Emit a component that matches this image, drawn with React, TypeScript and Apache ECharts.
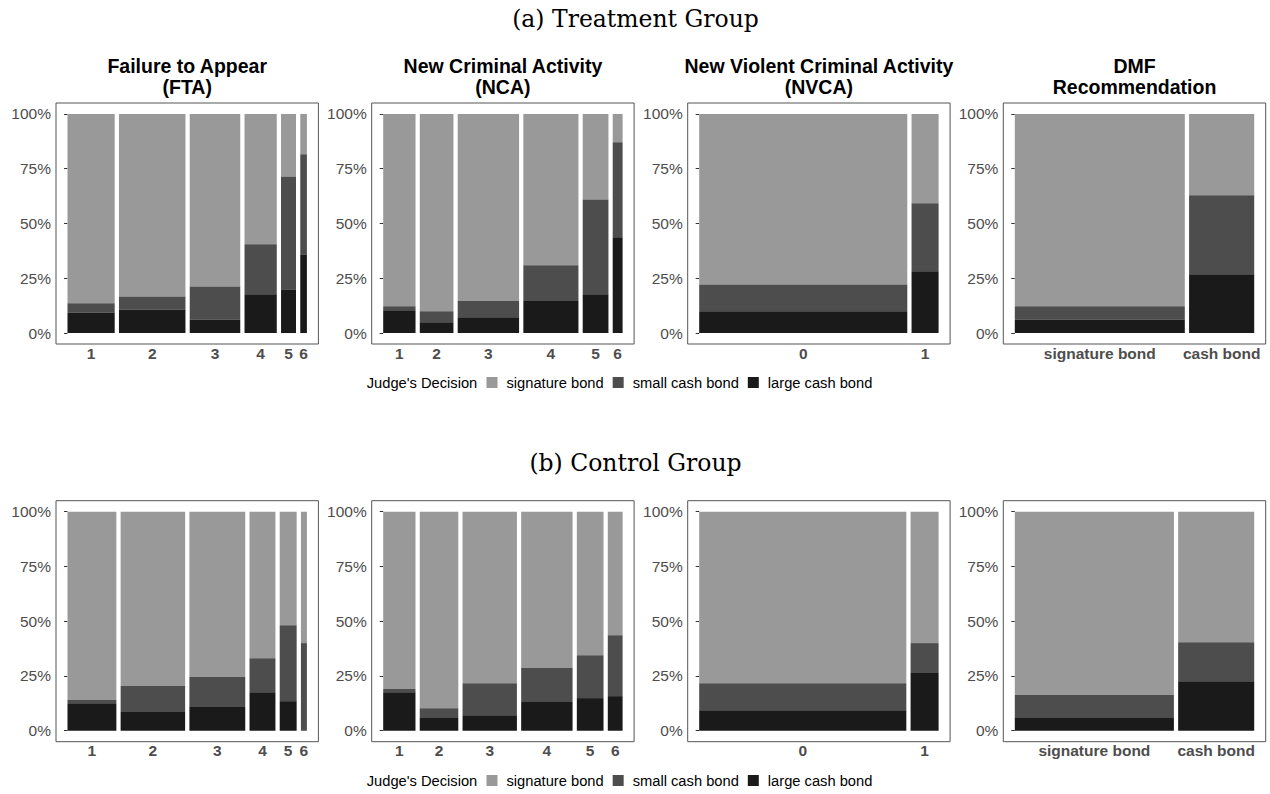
import React, { useEffect, useRef } from "react";
import * as echarts from "echarts";

// ---------- data ----------
const LEVELS = ["signature bond", "small cash bond", "large cash bond"];
const COLORS = ["#999999", "#4D4D4D", "#1A1A1A"];

const FTA_CATS = ["1", "2", "3", "4", "5", "6"];
const NCA_CATS = ["1", "2", "3", "4", "5", "6"];
const NVCA_CATS = ["0", "1"];
const DMF_CATS = ["signature bond", "cash bond"];

const PANEL_TITLES = [
  "Failure to Appear\n(FTA)",
  "New Criminal Activity\n(NCA)",
  "New Violent Criminal Activity\n(NVCA)",
  "DMF\nRecommendation",
];
const GROUP_TITLES = ["(a) Treatment Group", "(b) Control Group"];
const LEGEND_TITLE = "Judge's Decision";
const Y_TICKS = [0, 0.25, 0.5, 0.75, 1];

// Treatment group: relative bar widths (share of cases) and share of each decision
const T_FTA_WIDTH = [142, 200, 152, 97, 45, 20];
const T_FTA_LARGE = [0.094, 0.108, 0.062, 0.177, 0.199, 0.359];
const T_FTA_SMALL = [0.042, 0.059, 0.151, 0.228, 0.516, 0.457];

const T_NCA_WIDTH = [98, 102, 186, 167, 78, 30];
const T_NCA_LARGE = [0.104, 0.049, 0.072, 0.146, 0.177, 0.437];
const T_NCA_SMALL = [0.018, 0.05, 0.074, 0.163, 0.433, 0.434];

const T_NVCA_WIDTH = [623, 81];
const T_NVCA_LARGE = [0.099, 0.282];
const T_NVCA_SMALL = [0.123, 0.31];

const T_DMF_WIDTH = [509, 195];
const T_DMF_LARGE = [0.062, 0.268];
const T_DMF_SMALL = [0.06, 0.361];

// Control group
const C_FTA_WIDTH = [147, 194, 168, 78, 51, 18];
const C_FTA_LARGE = [0.126, 0.085, 0.108, 0.176, 0.135, 0];
const C_FTA_SMALL = [0.014, 0.119, 0.137, 0.155, 0.347, 0.4];

const C_NCA_WIDTH = [98, 117, 165, 156, 81, 45];
const C_NCA_LARGE = [0.176, 0.058, 0.071, 0.131, 0.149, 0.158];
const C_NCA_SMALL = [0.014, 0.045, 0.146, 0.155, 0.196, 0.278];

const C_NVCA_WIDTH = [621, 84];
const C_NVCA_LARGE = [0.094, 0.263];
const C_NVCA_SMALL = [0.123, 0.137];

const C_DMF_WIDTH = [477, 228];
const C_DMF_LARGE = [0.058, 0.226];
const C_DMF_SMALL = [0.105, 0.178];

// ---------- layout ----------
const COL_LEFT = [56, 371.7, 687.7, 1003.3];
const PANEL_W = 262.4;
const ROW_TOP = [103, 500.7];
const PANEL_H = 241;
const GAP = 0.0178;
const X_EXP = 0.048;
const Y_EXP = 0.05;
const FONT = "Liberation Sans";
const AXIS_TEXT = "#4D4D4D";

type Panel = {
  row: number;
  col: number;
  cats: string[];
  widths: number[];
  large: number[];
  small: number[];
};

const PANELS: Panel[] = [
  { row: 0, col: 0, cats: FTA_CATS, widths: T_FTA_WIDTH, large: T_FTA_LARGE, small: T_FTA_SMALL },
  { row: 0, col: 1, cats: NCA_CATS, widths: T_NCA_WIDTH, large: T_NCA_LARGE, small: T_NCA_SMALL },
  { row: 0, col: 2, cats: NVCA_CATS, widths: T_NVCA_WIDTH, large: T_NVCA_LARGE, small: T_NVCA_SMALL },
  { row: 0, col: 3, cats: DMF_CATS, widths: T_DMF_WIDTH, large: T_DMF_LARGE, small: T_DMF_SMALL },
  { row: 1, col: 0, cats: FTA_CATS, widths: C_FTA_WIDTH, large: C_FTA_LARGE, small: C_FTA_SMALL },
  { row: 1, col: 1, cats: NCA_CATS, widths: C_NCA_WIDTH, large: C_NCA_LARGE, small: C_NCA_SMALL },
  { row: 1, col: 2, cats: NVCA_CATS, widths: C_NVCA_WIDTH, large: C_NVCA_LARGE, small: C_NVCA_SMALL },
  { row: 1, col: 3, cats: DMF_CATS, widths: C_DMF_WIDTH, large: C_DMF_LARGE, small: C_DMF_SMALL },
];

function barPositions(widths: number[]) {
  const n = widths.length;
  const total = widths.reduce((a, b) => a + b, 0);
  const usable = 1 - GAP * (n - 1);
  const out: { x0: number; x1: number }[] = [];
  let x = 0;
  for (let i = 0; i < n; i++) {
    const w = (widths[i] / total) * usable;
    out.push({ x0: x, x1: x + w });
    x += w + GAP;
  }
  return out;
}

function buildOption() {
  const grid: any[] = [];
  const xAxis: any[] = [];
  const yAxis: any[] = [];
  const series: any[] = [];
  const graphic: any[] = [];

  PANELS.forEach((p, idx) => {
    const pos = barPositions(p.widths);
    const centers = pos.map((b) => (b.x0 + b.x1) / 2);
    grid.push({
      left: COL_LEFT[p.col],
      top: ROW_TOP[p.row],
      width: PANEL_W,
      height: PANEL_H,
      show: true,
      borderColor: "#555555",
      borderWidth: 1,
      backgroundColor: "transparent",
      containLabel: false,
    });
    xAxis.push({
      type: "value",
      gridIndex: idx,
      min: -X_EXP,
      max: 1 + X_EXP,
      axisLine: { show: false },
      axisTick: { show: false },
      splitLine: { show: false },
      axisLabel: {
        customValues: centers,
        margin: 1,
        fontFamily: FONT,
        fontSize: 15.5,
        fontWeight: "bold",
        color: AXIS_TEXT,
        formatter: (v: number) => {
          let best = 0;
          for (let i = 1; i < centers.length; i++) {
            if (Math.abs(centers[i] - v) < Math.abs(centers[best] - v)) best = i;
          }
          return p.cats[best];
        },
      },
    });
    yAxis.push({
      type: "value",
      gridIndex: idx,
      min: -Y_EXP,
      max: 1 + Y_EXP,
      axisLine: { show: false },
      splitLine: { show: false },
      axisTick: {
        show: true,
        customValues: Y_TICKS,
        length: 3.5,
        lineStyle: { color: "#333333", width: 1 },
      },
      axisLabel: {
        customValues: Y_TICKS,
        margin: 5,
        fontFamily: FONT,
        fontSize: 15.5,
        color: AXIS_TEXT,
        formatter: (v: number) => Math.round(v * 100) + "%",
      },
    });

    // series per decision level (stacked: large at bottom, small middle, signature on top)
    LEVELS.forEach((name, li) => {
      const data = pos.map((b, i) => {
        const L = p.large[i];
        const S = p.small[i];
        let y0 = 0;
        let y1 = 0;
        if (li === 2) {
          y0 = 0;
          y1 = L;
        } else if (li === 1) {
          y0 = L;
          y1 = L + S;
        } else {
          y0 = L + S;
          y1 = 1;
        }
        return [b.x0, b.x1, y0, y1];
      });
      series.push({
        type: "custom",
        name,
        xAxisIndex: idx,
        yAxisIndex: idx,
        itemStyle: { color: COLORS[li] },
        encode: { x: [0, 1], y: [2, 3] },
        data,
        renderItem: (_params: any, api: any) => {
          const x0 = api.value(0);
          const x1 = api.value(1);
          const y0 = api.value(2);
          const y1 = api.value(3);
          if (y1 - y0 <= 0) return null;
          const a = api.coord([x0, y1]);
          const b = api.coord([x1, y0]);
          return {
            type: "rect",
            shape: { x: a[0], y: a[1], width: b[0] - a[0], height: b[1] - a[1] },
            style: { fill: COLORS[li] },
          };
        },
      });
    });
  });

  // panel titles (top row only)
  PANEL_TITLES.forEach((t, c) => {
    graphic.push({
      type: "text",
      x: COL_LEFT[c] + PANEL_W / 2,
      y: 56,
      style: {
        text: t,
        fontFamily: FONT,
        fontSize: 19.5,
        fontWeight: "bold",
        fill: "#000000",
        align: "center",
        verticalAlign: "top",
        lineHeight: 20.5,
      },
    });
  });

  // group titles
  const groupY = [19, 463];
  GROUP_TITLES.forEach((t, i) => {
    graphic.push({
      type: "text",
      x: 635.5,
      y: groupY[i],
      style: {
        text: t,
        fontFamily: "DejaVu Serif",
        fontSize: 23.5,
        fill: "#000000",
        align: "center",
        verticalAlign: "middle",
      },
    });
  });

  // legend titles
  const legendY = [383, 781];
  legendY.forEach((y) => {
    graphic.push({
      type: "text",
      x: 366.7,
      y,
      style: {
        text: LEGEND_TITLE,
        fontFamily: FONT,
        fontSize: 14.7,
        fill: "#000000",
        align: "left",
        verticalAlign: "middle",
      },
    });
  });

  const legend = legendY.map((y) => ({
    data: LEVELS,
    left: 486.5,
    top: y - 8,
    padding: 0,
    orient: "horizontal",
    icon: "rect",
    itemWidth: 11,
    itemHeight: 11,
    itemGap: 9,
    selectedMode: false,
    textStyle: {
      fontFamily: FONT,
      fontSize: 14.7,
      color: "#000000",
      padding: [0, 0, 0, 4],
    },
  }));

  return {
    animation: false,
    backgroundColor: "#ffffff",
    textStyle: { fontFamily: FONT },
    grid,
    xAxis,
    yAxis,
    series,
    legend,
    graphic,
  };
}

export default function App() {
  const ref = useRef<HTMLDivElement>(null);
  useEffect(() => {
    if (!ref.current) return;
    const chart = echarts.init(ref.current, null, { renderer: "svg" });
    chart.setOption(buildOption() as any);
    return () => chart.dispose();
  }, []);
  return (
    <div
      ref={ref}
      style={{ position: "fixed", left: 0, top: 0, width: 1270, height: 794, background: "#fff" }}
    />
  );
}
